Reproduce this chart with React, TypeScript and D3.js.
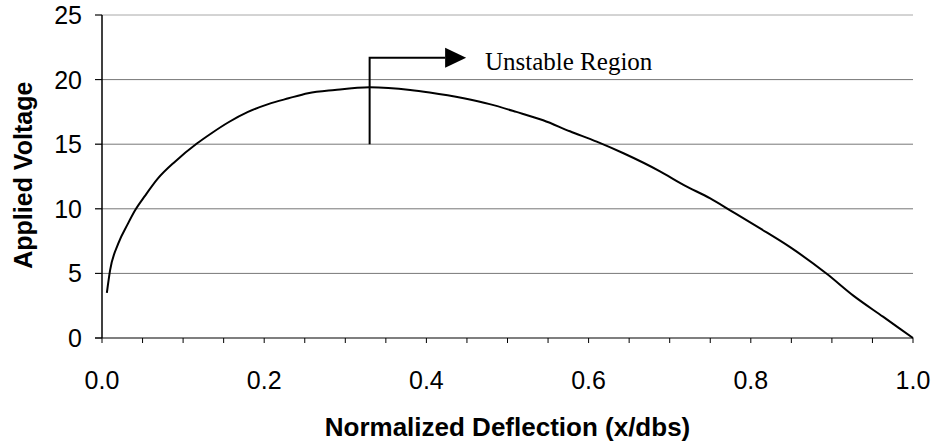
import React from "react";
import * as d3 from "d3";

// normalized deflection vs applied voltage
const deflection = [
  0.006, 0.01, 0.02, 0.032, 0.041, 0.053, 0.069, 0.09, 0.117, 0.135, 0.156,
  0.18, 0.205, 0.23, 0.254, 0.287, 0.33, 0.38, 0.404, 0.446, 0.478, 0.511,
  0.544, 0.577, 0.61, 0.643, 0.688, 0.717, 0.75, 0.774, 0.811, 0.848, 0.894,
  0.926, 0.963, 1.0,
];
const voltage = [
  3.5, 5.25, 7.3, 8.85, 9.9, 11.0, 12.35, 13.65, 15.05, 15.85, 16.7, 17.5,
  18.1, 18.55, 18.95, 19.2, 19.4, 19.2, 19.0, 18.55, 18.1, 17.5, 16.85, 16.0,
  15.2, 14.3, 12.9, 11.85, 10.8, 9.9, 8.5, 7.05, 4.95, 3.3, 1.65, 0,
];
const yTicks = [0, 5, 10, 15, 20, 25];
const xLabels = [0, 0.2, 0.4, 0.6, 0.8, 1.0];
const xMinorTicks = d3.range(0, 21).map((i) => i * 0.05);

// annotation in data units
const arrowX = 0.33;
const arrowBottom = 15;
const arrowTop = 21.7;
const arrowEnd = 0.449;
const noteText = "Unstable Region";

const W = 937;
const H = 447;

export default function App() {
  const x = d3.scaleLinear().domain([0, 1]).range([102, 913]);
  const y = d3.scaleLinear().domain([0, 25]).range([338, 15]);

  const pts = deflection.map((d, i) => [d, voltage[i]] as [number, number]);
  const line = d3
    .line<[number, number]>()
    .x((d) => x(d[0]))
    .y((d) => y(d[1]))
    .curve(d3.curveMonotoneX);

  const ax = x(arrowX);
  const ay = y(arrowTop);
  const headEnd = x(arrowEnd);
  const headStart = headEnd - 21;

  return (
    <svg
      width={W}
      height={H}
      style={{ position: "absolute", left: 0, top: 0, background: "#fff" }}
    >
      {/* gridlines */}
      {yTicks.slice(1).map((t) => (
        <line
          key={"g" + t}
          x1={95}
          x2={913}
          y1={y(t)}
          y2={y(t)}
          stroke={t === 25 ? "#a8a8a8" : "#777"}
          strokeWidth={1}
        />
      ))}

      {/* y axis */}
      <line x1={102} x2={102} y1={y(25)} y2={y(0)} stroke="#000" strokeWidth={1.5} />
      {yTicks.map((t) => (
        <g key={"y" + t}>
          <line x1={95} x2={102} y1={y(t)} y2={y(t)} stroke="#000" />
          <text
            x={82}
            y={y(t)}
            dy="0.36em"
            textAnchor="end"
            fontFamily="Liberation Sans, Arial, sans-serif"
            fontSize={25}
          >
            {t}
          </text>
        </g>
      ))}

      {/* x axis */}
      <line x1={95} x2={913} y1={y(0)} y2={y(0)} stroke="#000" strokeWidth={1.2} />
      {xMinorTicks.map((t, i) => (
        <line key={"xt" + i} x1={x(t)} x2={x(t)} y1={y(0)} y2={y(0) + 5} stroke="#000" />
      ))}
      {xLabels.map((t) => (
        <text
          key={"xl" + t}
          x={x(t)}
          y={389}
          textAnchor="middle"
          fontFamily="Liberation Sans, Arial, sans-serif"
          fontSize={25}
        >
          {t.toFixed(1)}
        </text>
      ))}

      {/* axis titles */}
      <text
        x={(102 + 913) / 2}
        y={436}
        textAnchor="middle"
        fontFamily="Liberation Sans, Arial, sans-serif"
        fontWeight="bold"
        fontSize={26}
      >
        Normalized Deflection (x/dbs)
      </text>
      <text
        transform={`translate(32, ${y(12.6)}) rotate(-90)`}
        textAnchor="middle"
        fontFamily="Liberation Sans, Arial, sans-serif"
        fontWeight="bold"
        fontSize={25}
      >
        Applied Voltage
      </text>

      {/* curve */}
      <path d={line(pts) ?? ""} fill="none" stroke="#000" strokeWidth={2} />

      {/* unstable region arrow */}
      <path
        d={`M${ax},${y(arrowBottom)}V${ay}H${headStart}`}
        fill="none"
        stroke="#000"
        strokeWidth={2}
      />
      <path
        d={`M${headStart},${ay - 10}L${headEnd},${ay}L${headStart},${ay + 10}Z`}
        fill="#000"
      />
      <text
        x={485}
        y={70}
        fontFamily="Liberation Serif, Times New Roman, serif"
        fontSize={25}
      >
        {noteText}
      </text>
    </svg>
  );
}
